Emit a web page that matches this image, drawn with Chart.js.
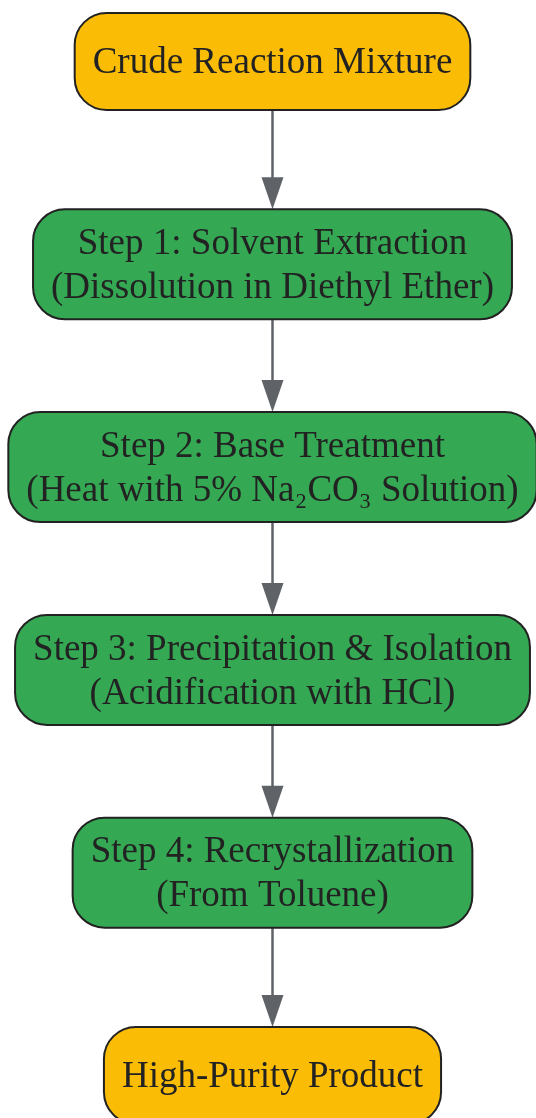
<!DOCTYPE html>
<html>
<head>
<meta charset="utf-8">
<script src="https://cdn.jsdelivr.net/npm/chart.js@4/dist/chart.umd.min.js"></script>
<style>
  html, body { margin: 0; padding: 0; background: #fff; }
  canvas { display: block; }
</style>
</head>
<body>
<canvas id="flow" width="536" height="1118"></canvas>
<script>
"use strict";

// ── flow data ────────────────────────────────────────────────────────────────
const stepLabels = [
  ["Crude Reaction Mixture"],
  ["Step 1: Solvent Extraction", "(Dissolution in Diethyl Ether)"],
  ["Step 2: Base Treatment", "(Heat with 5% Na\u2082CO\u2083 Solution)"],
  ["Step 3: Precipitation & Isolation", "(Acidification with HCl)"],
  ["Step 4: Recrystallization", "(From Toluene)"],
  ["High-Purity Product"],
];
const stepKinds = ["terminal", "process", "process", "process", "process", "terminal"];
const stepOrder = [0, 1, 2, 3, 4, 5];

const KIND_COLORS = {
  terminal: "#FBBC05",
  process:  "#34A853",
};

const FONT      = "37px 'Liberation Serif', 'DejaVu Serif', serif";
const LINE_H    = 44;
const PAD_X     = 18;
const PAD_Y     = 11;
const MIN_H     = 97;
const RADIUS    = 32;
const EDGE      = "#5f6368";

function roundRect(ctx, x, y, w, h, r) {
  ctx.beginPath();
  ctx.moveTo(x + r, y);
  ctx.lineTo(x + w - r, y);
  ctx.arcTo(x + w, y, x + w, y + r, r);
  ctx.lineTo(x + w, y + h - r);
  ctx.arcTo(x + w, y + h, x + w - r, y + h, r);
  ctx.lineTo(x + r, y + h);
  ctx.arcTo(x, y + h, x, y + h - r, r);
  ctx.lineTo(x, y + r);
  ctx.arcTo(x, y, x + r, y, r);
  ctx.closePath();
}

function boxSize(ctx, lines) {
  ctx.font = FONT;
  const w = Math.max(...lines.map(l => ctx.measureText(l).width)) + PAD_X * 2;
  const h = Math.max(MIN_H, lines.length * LINE_H + PAD_Y * 2);
  return { w, h };
}

// ── plugin: draws nodes and connectors at the scatter points ────────────────
const flowPlugin = {
  id: "flowNodes",
  afterDatasetsDraw(chart) {
    const ctx = chart.ctx;
    const pts = chart.getDatasetMeta(0).data;
    const sizes = stepLabels.map(lines => boxSize(ctx, lines));

    // connectors
    ctx.save();
    ctx.strokeStyle = EDGE;
    ctx.fillStyle = EDGE;
    ctx.lineWidth = 2.5;
    for (let i = 0; i < pts.length - 1; i++) {
      const x = pts[i].x;
      const y0 = pts[i].y + sizes[i].h / 2;
      const y1 = pts[i + 1].y - sizes[i + 1].h / 2;
      ctx.beginPath();
      ctx.moveTo(x, y0);
      ctx.lineTo(x, y1 - 30);
      ctx.stroke();
      ctx.beginPath();
      ctx.moveTo(x, y1);
      ctx.lineTo(x - 11, y1 - 32);
      ctx.lineTo(x + 11, y1 - 32);
      ctx.closePath();
      ctx.fill();
    }
    ctx.restore();

    // nodes
    pts.forEach((p, i) => {
      const { w, h } = sizes[i];
      ctx.save();
      roundRect(ctx, p.x - w / 2, p.y - h / 2, w, h, RADIUS);
      ctx.fillStyle = KIND_COLORS[stepKinds[i]];
      ctx.fill();
      ctx.lineWidth = 2;
      ctx.strokeStyle = "#222";
      ctx.stroke();
      ctx.font = FONT;
      ctx.fillStyle = "#222";
      ctx.textAlign = "center";
      ctx.textBaseline = "middle";
      const lines = stepLabels[i];
      const top = p.y - (lines.length - 1) * LINE_H / 2;
      lines.forEach((l, k) => ctx.fillText(l, p.x, top + k * LINE_H + 2));
      ctx.restore();
    });
  },
};

new Chart(document.getElementById("flow"), {
  type: "scatter",
  data: {
    datasets: [{
      data: stepOrder.map(i => ({ x: 0, y: i })),
      pointRadius: 0,
      pointHoverRadius: 0,
    }],
  },
  options: {
    responsive: false,
    animation: false,
    devicePixelRatio: 1,
    layout: { padding: 0 },
    events: [],
    plugins: { legend: { display: false }, tooltip: { enabled: false } },
    scales: {
      x: { type: "linear", min: -272.5, max: 263.5, display: false },
      y: { type: "linear", min: -0.3033, max: 5.2096, reverse: true, display: false },
    },
  },
  plugins: [flowPlugin],
});
</script>
</body>
</html>
